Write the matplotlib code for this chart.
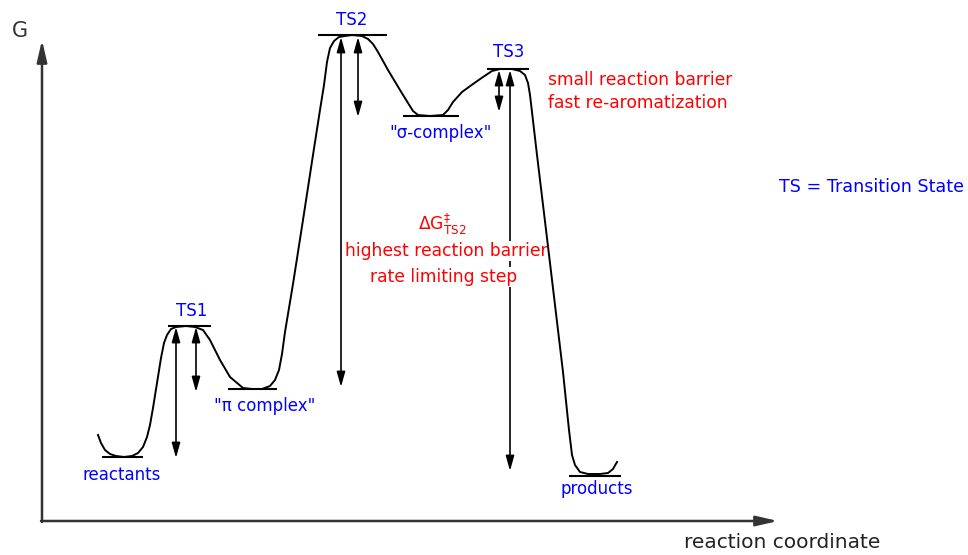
import matplotlib
matplotlib.use('Agg')
import matplotlib.pyplot as plt

# ------------------------------------------------------------------
# Data (picture coordinates: x to the right, y downwards)
# ------------------------------------------------------------------

# free-energy profile
curve_x = [98, 101, 105, 110, 116, 124, 132, 138, 143, 147, 150, 153, 157,
           161, 164, 167, 171, 176, 186, 195, 203, 210, 220, 230, 243, 252,
           262, 270, 275, 279, 282, 285, 293, 303, 313, 320, 324, 327, 330,
           334, 339, 345, 352, 362, 368, 373, 378, 388, 400, 408, 413, 418, 430,
           443, 448, 453, 462, 473, 483, 492, 500, 512, 520, 525, 528, 530,
           532, 537, 547, 555, 563, 569, 572, 575, 580, 588, 600, 608, 613,
           617]
curve_y = [435, 443, 450, 454, 456, 457, 456, 453, 447, 437, 425, 408, 383,
           358, 343, 335, 329, 327, 326, 327, 330, 340, 360, 377, 388, 389,
           389, 386, 380, 370, 354, 332, 284, 220, 155, 110, 85, 62, 48,
           41, 37, 36, 35, 36, 39, 44, 52, 70, 90, 103, 111, 115, 116,
           115, 110, 102, 92, 84, 77, 71, 69, 69, 71, 75, 83, 95,
           112, 155, 238, 305, 372, 430, 455, 465, 472, 474, 474, 473, 469,
           462]

# horizontal level marks: (x start, x end, y)
level_names = ['reactants', 'TS1', 'pi', 'TS2', 'sigma', 'TS3', 'products']
level_x0 = [102, 168, 228, 318, 403, 487, 569]
level_x1 = [143, 211, 277, 387, 459, 529, 621]
level_y = [457, 326, 389, 35, 116, 69, 476]

# double-headed barrier arrows
arrow_x = [176, 196, 341, 358, 499, 510]
arrow_top = [327, 327, 37, 37, 70, 70]
arrow_bottom = [458, 392, 387, 117, 112, 471]

# blue labels
blue_labels = ['reactants', 'TS1', '"\u03c0 complex"', 'TS2',
               '"\u03c3-complex"', 'TS3', 'products', 'TS = Transition State']
blue_x = [122, 192, 265, 352, 441, 509, 597, 779]
blue_y = [475, 311, 406, 20, 133, 52, 489, 187]
blue_ha = ['center'] * 7 + ['left']
blue_size = [12] * 7 + [12.6]

# red annotations
red_labels = ['small reaction barrier', 'fast re-aromatization',
              r'$\Delta\mathrm{G}^{\ddagger}_{\mathrm{TS2}}$',
              'highest reaction barrier', 'rate limiting step']
red_x = [548, 548, 442, 446, 444]
red_y = [80, 103, 224, 251, 277]
red_ha = ['left', 'left', 'center', 'center', 'center']

# axes of the diagram
axis_origin = (42, 521)
axis_xend = 778
axis_ytop = 40

# ------------------------------------------------------------------
# Figure
# ------------------------------------------------------------------
fig = plt.figure(figsize=(9.68, 5.55), dpi=100)
ax = fig.add_axes([0, 0, 1, 1])
ax.set_xlim(0, 968)
ax.set_ylim(555, 0)
ax.axis('off')

# axes arrows
ax.annotate('', xy=(axis_origin[0], axis_ytop), xytext=(axis_origin[0], axis_origin[1] + 1),
            arrowprops=dict(arrowstyle='-|>,head_length=1.3,head_width=0.3',
                            color='#333333', lw=1.8, shrinkA=0, shrinkB=0,
                            mutation_scale=10))
ax.annotate('', xy=(axis_xend, axis_origin[1]), xytext=(axis_origin[0] - 1, axis_origin[1]),
            arrowprops=dict(arrowstyle='-|>,head_length=1.3,head_width=0.3',
                            color='#333333', lw=1.8, shrinkA=0, shrinkB=0,
                            mutation_scale=10))
ax.text(20, 31, 'G', fontsize=15, color='#333333', ha='center', va='center')
ax.text(782, 543, 'reaction coordinate', fontsize=14.5, color='#222222',
        ha='center', va='center')

# energy profile
ax.plot(curve_x, curve_y, color='black', lw=1.4, zorder=4,
        solid_joinstyle='round')

# level marks
ax.hlines(level_y, level_x0, level_x1, color='black', lw=1.5, zorder=4)

# barrier arrows
for x, yt, yb in zip(arrow_x, arrow_top, arrow_bottom):
    ax.annotate('', xy=(x, yb), xytext=(x, yt),
                arrowprops=dict(arrowstyle='<|-|>,head_length=0.9,head_width=0.25',
                                color='black', lw=1.2, shrinkA=0, shrinkB=0,
                                mutation_scale=10), zorder=2)

# labels
for s, x, y, ha, fs in zip(blue_labels, blue_x, blue_y, blue_ha, blue_size):
    ax.text(x, y, s, color='#0000ff', fontsize=fs, ha=ha, va='center', zorder=5)

for s, x, y, ha in zip(red_labels, red_x, red_y, red_ha):
    ax.text(x, y, s, color='#ff0000', fontsize=12.3, ha=ha, va='center', zorder=3,
            bbox=dict(facecolor='white', edgecolor='none', pad=0.5))

fig.savefig('out.png', dpi=100)
